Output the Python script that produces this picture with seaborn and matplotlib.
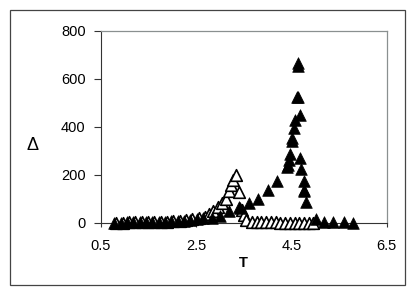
import matplotlib
matplotlib.use("Agg")
import matplotlib.pyplot as plt
import seaborn as sns
import pandas as pd
from matplotlib.patches import Rectangle

# 实心三角 (filled)
t_filled = [0.78, 0.92, 1.05, 1.18, 1.32, 1.45, 1.58, 1.72, 1.85, 1.98,
            2.12, 2.25, 2.38, 2.52, 2.65, 2.83, 3.00, 3.20, 3.41, 3.43,
            3.62, 3.80, 4.00, 4.20, 4.40, 4.42, 4.45, 4.48, 4.51, 4.52,
            4.55, 4.58, 4.62, 4.64, 4.63, 4.65, 4.69, 4.69, 4.71, 4.76,
            4.76, 4.77, 4.81, 5.01, 5.19, 5.38, 5.60, 5.80]
d_filled = [0, 0, 1, 1, 1, 2, 2, 3, 4, 5,
            6, 8, 10, 13, 17, 20, 29, 47, 64, 61,
            80, 99, 136, 175, 230, 240, 261, 286, 353, 340,
            395, 429, 522, 522, 654, 664, 446, 268, 221, 171,
            137, 130, 85, 15, 4, 2, 1, 0]

# 空心三角 (open)
t_open = [0.82, 0.96, 1.09, 1.22, 1.36, 1.49, 1.62, 1.76, 1.89, 2.02,
          2.16, 2.29, 2.42, 2.56, 2.69, 2.76, 2.86, 2.95, 3.04, 3.13,
          3.20, 3.24, 3.27, 3.34, 3.39, 3.46, 3.50, 3.55, 3.67, 3.77,
          3.87, 3.97, 4.07, 4.17, 4.27, 4.37, 4.47, 4.57, 4.67, 4.77,
          4.87, 4.96]
d_open = [0, 0, 1, 1, 1, 2, 3, 3, 4, 6,
          8, 11, 14, 18, 24, 36, 47, 64, 80, 99,
          130, 158, 178, 200, 126, 53, 32, 11, 3, 2,
          1, 1, 1, 1, 0, 0, 0, 0, 0, 0,
          0, 0]

df_f = pd.DataFrame({"T": t_filled, "D": d_filled})
df_o = pd.DataFrame({"T": t_open, "D": d_open})

sns.set_style("white")
plt.rcParams["font.family"] = ["Liberation Sans", "DejaVu Sans"]
plt.rcParams["text.color"] = "black"
plt.rcParams["axes.labelcolor"] = "black"

fig = plt.figure(figsize=(4.15, 2.94), dpi=100)
ax = fig.add_axes([101 / 415, 1 - 222.5 / 294, 285.5 / 415, 192 / 294])

# 空心在下，实心叠在上面
sns.scatterplot(data=df_o, x="T", y="D", marker="^", s=70,
                facecolor="white", edgecolor="black", linewidth=1.2,
                ax=ax, zorder=3, clip_on=False)
sns.scatterplot(data=df_f, x="T", y="D", marker="^", s=70,
                color="black", edgecolor="black", linewidth=0.5,
                ax=ax, zorder=4, clip_on=False)

ax.set_xlim(0.5, 6.5)
ax.set_ylim(0, 800)
ax.set_xticks([0.5, 2.5, 4.5, 6.5])
ax.set_xticklabels(["0.5", "2.5", "4.5", "6.5"])
ax.set_yticks([0, 200, 400, 600, 800])
ax.tick_params(axis="both", labelsize=10.5, direction="out", width=0.8,
               color="#333333", labelcolor="black", bottom=True, left=True)
ax.tick_params(axis="x", length=3, pad=9)
ax.tick_params(axis="y", length=5, pad=6)

for side in ["left", "bottom"]:
    ax.spines[side].set_color("#333333")
    ax.spines[side].set_linewidth(0.8)
for side in ["top", "right"]:
    ax.spines[side].set_color("#8a9090")
    ax.spines[side].set_linewidth(0.9)

ax.set_xlabel("T", fontsize=10.5, fontweight="bold", labelpad=2)
ax.set_ylabel("\u0394", fontsize=13, rotation=0, va="center", ha="center")
ax.yaxis.set_label_coords(-0.239, 0.40)

# 外框
fig.patches.append(Rectangle((9.5 / 415, 1 - 285 / 294), 395.5 / 415, 275.5 / 294,
                             transform=fig.transFigure, fill=False,
                             edgecolor="#444444", linewidth=0.9))

fig.savefig("out.png", dpi=100)
plt.close(fig)
